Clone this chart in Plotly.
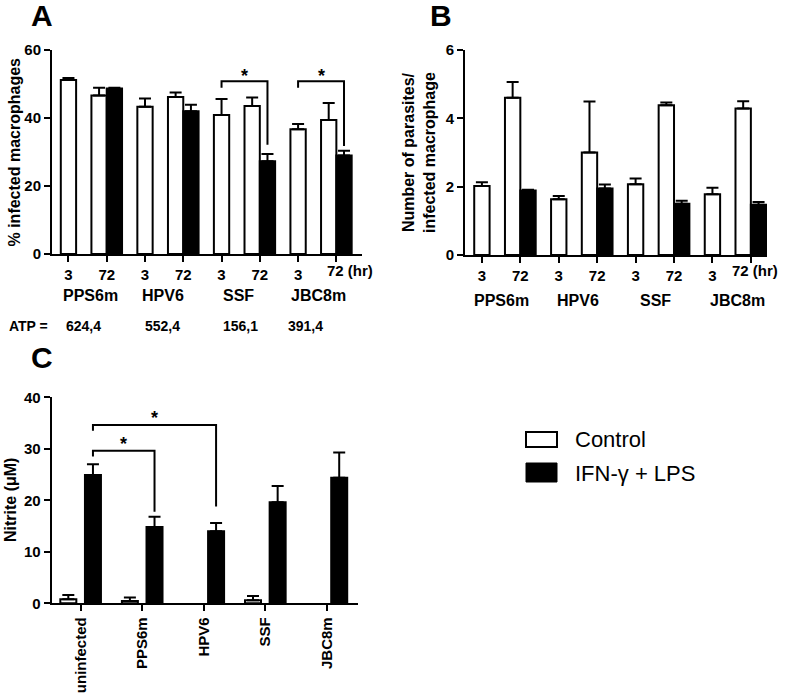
import plotly.graph_objects as go

W, H = 795, 695
FONT = "Liberation Sans, Arial, sans-serif"

# ---- data -------------------------------------------------------------
STRAINS = ["PPS6m", "HPV6", "SSF", "JBC8m"]
ATP = ["624,4", "552,4", "156,1", "391,4"]
HOURS = ["3", "72", "3", "72", "3", "72", "3", "72"]

# panel A: % infected macrophages (control at 3h/72h, IFN-g+LPS at 72h)
infected_ctrl = [51.2, 46.6, 43.3, 46.2, 40.9, 43.5, 36.7, 39.4]
infected_ctrl_err = [0.6, 2.3, 2.4, 1.3, 4.7, 2.5, 1.5, 5.0]
infected_ifn = [48.7, 42.0, 27.3, 29.0]
infected_ifn_err = [0.2, 1.9, 2.1, 1.4]

# panel B: parasites per infected macrophage
parasites_ctrl = [2.02, 4.60, 1.63, 3.00, 2.07, 4.38, 1.78, 4.29]
parasites_ctrl_err = [0.11, 0.46, 0.10, 1.49, 0.17, 0.08, 0.19, 0.21]
parasites_ifn = [1.89, 1.95, 1.50, 1.47]
parasites_ifn_err = [0.02, 0.11, 0.09, 0.08]

# panel C: nitrite (uM)
NITRITE_GROUPS = ["uninfected", "PPS6m", "HPV6", "SSF", "JBC8m"]
nitrite_ctrl = [0.8, 0.45, None, 0.6, None]
nitrite_ctrl_err = [0.8, 0.7, None, 0.8, None]
nitrite_ifn = [24.9, 14.8, 14.0, 19.6, 24.4]
nitrite_ifn_err = [2.1, 2.0, 1.6, 3.2, 4.9]

# significance brackets: (x_left, x_right, y_left_end, y_top, y_right_end)
brackets_a = [(4, 5.2, 48.9, 50.8, 32.1), (6, 7.2, 48.9, 50.8, 31.8)]
brackets_c = [(0.2, 1.2, 28.5, 29.6, 17.8), (0.2, 2.2, 33.5, 34.6, 18.8)]

# ---- helpers ----------------------------------------------------------
pos8 = list(range(8))
pos72 = [1, 3, 5, 7]
pos5 = list(range(5))


def px(x):
    return x / W


def py(y):
    return 1 - y / H


def bars(x, y, err, fill, offset, width, xa, ya):
    return go.Bar(
        x=x, y=y, width=width, offset=offset,
        marker=dict(color=fill, line=dict(color="black", width=2)),
        error_y=dict(type="data", array=err, arrayminus=[0] * len(err),
                     symmetric=False, color="black", thickness=2, width=6),
        xaxis=xa, yaxis=ya, showlegend=False, hoverinfo="skip",
    )


fig = go.Figure()

# panel A
fig.add_trace(bars(pos8, infected_ctrl, infected_ctrl_err, "white",
                   [-0.2, -0.4] * 4, 0.4, "x", "y"))
fig.add_trace(bars(pos72, infected_ifn, infected_ifn_err, "black",
                   0, 0.4, "x", "y"))
# panel B
fig.add_trace(bars(pos8, parasites_ctrl, parasites_ctrl_err, "white",
                   [-0.2, -0.4] * 4, 0.4, "x2", "y2"))
fig.add_trace(bars(pos72, parasites_ifn, parasites_ifn_err, "black",
                   0, 0.4, "x2", "y2"))
# panel C
fig.add_trace(bars(pos5, nitrite_ctrl, [e or 0 for e in nitrite_ctrl_err],
                   "white", -0.33, 0.26, "x3", "y3"))
fig.add_trace(bars(pos5, nitrite_ifn, nitrite_ifn_err, "black",
                   0.07, 0.26, "x3", "y3"))

annotations = []


def add_brackets(brs, xa, ya, star_shift):
    for x0, x1, yl, yt, yr in brs:
        fig.add_trace(go.Scatter(
            x=[x0, x0, x1, x1], y=[yl, yt, yt, yr], mode="lines",
            line=dict(color="black", width=2), xaxis=xa, yaxis=ya,
            showlegend=False, hoverinfo="skip", cliponaxis=False,
        ))
        annotations.append(dict(
            x=(x0 + x1) / 2, y=yt, xref=xa, yref=ya, text="<b>*</b>",
            showarrow=False, yanchor="bottom", yshift=star_shift,
            font=dict(size=18, color="black", family=FONT),
        ))


add_brackets(brackets_a, "x", "y", -7)
add_brackets(brackets_c, "x3", "y3", -5)

tick_font = dict(family=FONT, size=15, color="black", weight="bold")
axis_common = dict(
    showline=True, linecolor="black", linewidth=2, showgrid=False,
    zeroline=False, ticks="outside", ticklen=6, tickwidth=2,
    tickcolor="black", tickfont=tick_font, fixedrange=True, automargin=False,
)

fig.update_layout(
    width=W, height=H, autosize=False,
    margin=dict(l=0, r=0, t=0, b=0, pad=0, autoexpand=False),
    paper_bgcolor="white", plot_bgcolor="white", barmode="overlay",
    font=dict(family=FONT, color="black"),
    xaxis=dict(**axis_common, domain=[px(52), px(362)], range=[-0.43, 7.67],
               anchor="y", tickvals=pos8, ticktext=HOURS[:-1] + [""]),
    yaxis=dict(**axis_common, domain=[py(254), py(50)], range=[0, 60],
               anchor="x", tickvals=[0, 20, 40, 60]),
    xaxis2=dict(**axis_common, domain=[px(465), px(767)], range=[-0.44, 7.42],
                anchor="y2", tickvals=pos8, ticktext=HOURS[:-1] + [""]),
    yaxis2=dict(**axis_common, domain=[py(255), py(50)], range=[0, 6],
                anchor="x2", tickvals=[0, 2, 4, 6]),
    xaxis3=dict(**axis_common, domain=[px(51.7), px(358.3)], range=[-0.47, 4.51],
                anchor="y3", tickvals=pos5, ticktext=NITRITE_GROUPS,
                tickangle=-90),
    yaxis3=dict(**axis_common, domain=[py(603.3), py(397.3)], range=[0, 40],
                anchor="x3", tickvals=[0, 10, 20, 30, 40]),
)


def text(x, y, s, size=15, bold=True, xanchor="center", angle=0):
    annotations.append(dict(
        x=px(x), y=py(y), xref="paper", yref="paper", text=s,
        showarrow=False, xanchor=xanchor, yanchor="middle", textangle=angle,
        font=dict(family=FONT, size=size, color="black",
                  weight="bold" if bold else "normal"),
    ))


# panel letters
text(41.5, 16, "A", size=30)
text(440.5, 16, "B", size=30)
text(42, 357, "C", size=30)

# axis titles
text(13.5, 152, "% infected macrophages", size=16, angle=-90)
text(419.5, 152.5, "Number of parasites/<br>infected macrophage", size=16, angle=-90)
text(10, 500, "Nitrite (μM)", size=16, angle=-90)

# last hour label with unit
text(325, 270.5, "72 (hr)", xanchor="left")
text(730, 270.5, "72 (hr)", xanchor="left")

# strain labels under panels A and B
for s, xa, xb in zip(STRAINS, [90, 163, 238, 318], [501, 578, 655, 737]):
    text(xa, 295, s, size=16)
    text(xb, 300.5, s, size=16)

# ATP row
text(7, 326, "ATP =", size=14, xanchor="left")
for v, xa in zip(ATP, [83, 162, 240, 305]):
    text(xa, 326, v, size=14)

# legend
fig.add_shape(type="rect", xref="paper", yref="paper",
              x0=px(526), x1=px(557), y0=py(447), y1=py(432),
              line=dict(color="black", width=2), fillcolor="white")
fig.add_shape(type="rect", xref="paper", yref="paper",
              x0=px(526), x1=px(557), y0=py(482), y1=py(463),
              line=dict(color="black", width=1), fillcolor="black")
text(573, 440, "Control", size=22, bold=False, xanchor="left")
text(573, 473, "IFN-γ + LPS", size=22, bold=False, xanchor="left")

fig.update_layout(annotations=annotations)
fig.write_html("out.html", config={"displayModeBar": False},
               post_script="document.body.style.margin='0';"
                           "document.body.style.overflow='hidden';")
